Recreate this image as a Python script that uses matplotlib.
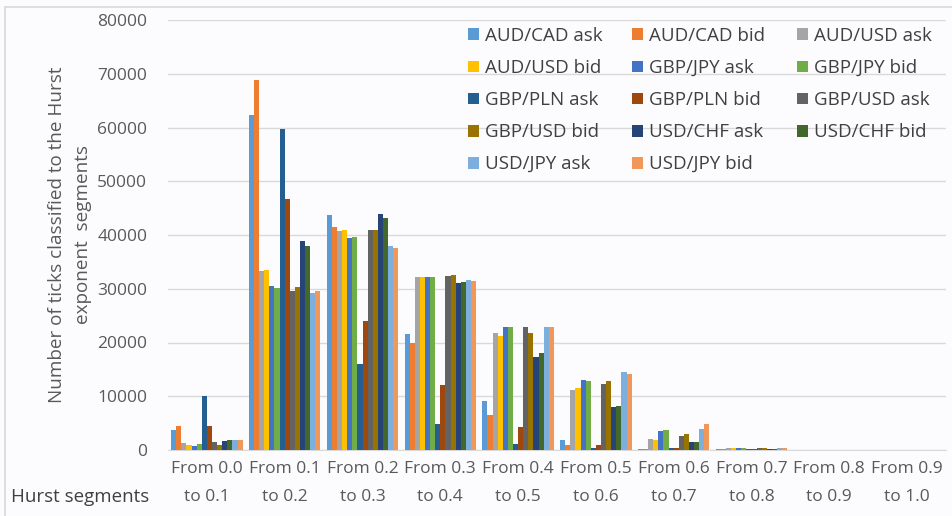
import matplotlib
matplotlib.use("Agg")
import matplotlib.pyplot as plt
import numpy as np
from matplotlib.patches import Rectangle

categories = ["From 0.0\nto 0.1", "From 0.1\nto 0.2", "From 0.2\nto 0.3", "From 0.3\nto 0.4",
              "From 0.4\nto 0.5", "From 0.5\nto 0.6", "From 0.6\nto 0.7", "From 0.7\nto 0.8",
              "From 0.8\nto 0.9", "From 0.9\nto 1.0"]

series_names = ["AUD/CAD ask", "AUD/CAD bid", "AUD/USD ask", "AUD/USD bid",
                "GBP/JPY ask", "GBP/JPY bid", "GBP/PLN ask", "GBP/PLN bid",
                "GBP/USD ask", "GBP/USD bid", "USD/CHF ask", "USD/CHF bid",
                "USD/JPY ask", "USD/JPY bid"]

aud_cad_ask = [3700, 62300, 43700, 21600, 9200, 1900, 200, 100, 0, 0]
aud_cad_bid = [4500, 68800, 41500, 19900, 6500, 900, 200, 100, 0, 0]
aud_usd_ask = [1300, 33300, 40700, 32200, 21700, 11200, 2000, 300, 0, 0]
aud_usd_bid = [1000, 33500, 40900, 32100, 21300, 11500, 1900, 400, 0, 0]
gbp_jpy_ask = [800, 30500, 39500, 32100, 22800, 13000, 3500, 400, 0, 0]
gbp_jpy_bid = [1100, 30100, 39600, 32200, 22800, 12800, 3700, 300, 0, 0]
gbp_pln_ask = [10100, 59700, 16000, 4800, 1200, 400, 300, 100, 0, 0]
gbp_pln_bid = [4500, 46700, 24000, 12100, 4300, 900, 300, 100, 0, 0]
gbp_usd_ask = [1400, 29600, 40900, 32400, 22900, 12300, 2600, 300, 0, 0]
gbp_usd_bid = [1000, 30400, 41000, 32600, 21700, 12800, 3000, 400, 0, 0]
usd_chf_ask = [1700, 38900, 43900, 31100, 17300, 8000, 1400, 200, 0, 0]
usd_chf_bid = [1900, 38000, 43200, 31300, 18100, 8100, 1400, 200, 0, 0]
usd_jpy_ask = [1900, 29200, 37900, 31600, 22800, 14600, 4000, 300, 0, 0]
usd_jpy_bid = [1800, 29500, 37600, 31500, 22900, 14100, 4800, 400, 0, 0]

yticks = [0, 10000, 20000, 30000, 40000, 50000, 60000, 70000, 80000]

series_values = [aud_cad_ask, aud_cad_bid, aud_usd_ask, aud_usd_bid,
                 gbp_jpy_ask, gbp_jpy_bid, gbp_pln_ask, gbp_pln_bid,
                 gbp_usd_ask, gbp_usd_bid, usd_chf_ask, usd_chf_bid,
                 usd_jpy_ask, usd_jpy_bid]

colors = ["#5B9BD5", "#ED7D31", "#A5A5A5", "#FFC000", "#4472C4", "#70AD47",
          "#255E91", "#9E480E", "#636363", "#997300", "#264478", "#43682B",
          "#7CAFDD", "#F1975A"]

plt.rcParams['font.family'] = ['Open Sans', 'DejaVu Sans']

W, H = 952, 516
fig = plt.figure(figsize=(W / 100, H / 100), dpi=100)
fig.patch.set_facecolor("#FCFCFE")

ax = fig.add_axes([168 / W, 1 - 450 / H, (946 - 168) / W, (450 - 20) / H])
ax.set_facecolor("#FCFCFE")

n = len(series_names)
x = np.arange(len(categories))
group_w = 0.92
bw = group_w / n
handles = []
for i, (name, vals, c) in enumerate(zip(series_names, series_values, colors)):
    h = ax.bar(x - group_w / 2 + bw * (i + 0.5), vals, width=bw, color=c, label=name, zorder=3)
    handles.append(h)

ax.set_xlim(-0.5, len(categories) - 0.5)
ax.set_ylim(0, 80000)
ax.set_yticks(yticks)
ax.set_yticklabels([str(v) for v in yticks])
ax.set_xticks(x)
ax.set_xticklabels(categories, linespacing=2.0)
ax.tick_params(axis='both', length=0, labelsize=12.5, colors="#595959")
ax.tick_params(axis='y', pad=15)
ax.tick_params(axis='x', pad=8)
ax.yaxis.grid(True, color="#D9D9D9", linewidth=1, zorder=0)
for s in ["top", "right", "left"]:
    ax.spines[s].set_visible(False)
ax.spines["bottom"].set_color("#D9D9D9")

ax.set_ylabel("Number of ticks classified to the Hurst\nexponent  segments", fontsize=13.6,
              color="#595959", labelpad=4, linespacing=1.55)

fig.text(11 / W, 1 - 497 / H, "Hurst segments", fontsize=13.5, color="#404040", va="center", ha="left")

# legend: three columns, filled row-wise as in the reference
col_x = [468, 632, 797]
for ci in range(3):
    idx = list(range(ci, n, 3))
    leg = fig.legend([handles[i] for i in idx], [series_names[i] for i in idx],
                     loc="upper left", bbox_to_anchor=(col_x[ci] / W, 1 - 27 / H),
                     bbox_transform=fig.transFigure,
                     frameon=False, fontsize=13.5, handlelength=0.6, handleheight=0.6,
                     handletextpad=0.3, labelspacing=0.75, borderaxespad=0, borderpad=0)
    for t in leg.get_texts():
        t.set_color("#404040")

fig.add_artist(Rectangle((5 / W, -0.1), 1.2, 1 - 7 / H + 0.1, transform=fig.transFigure,
                         fill=False, edgecolor="#D9D9D9", linewidth=1.2))

fig.savefig("out.png", dpi=100, facecolor=fig.get_facecolor())
